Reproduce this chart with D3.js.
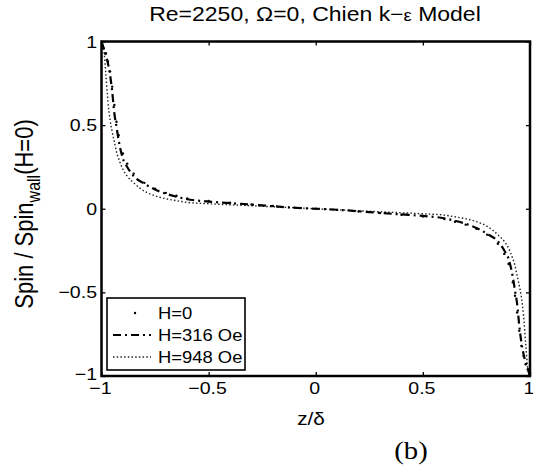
<!DOCTYPE html>
<html>
<head>
<meta charset="utf-8">
<script src="https://cdn.jsdelivr.net/npm/d3@7"></script>
<style>
body { margin: 0; background: #fff; }
svg text { font-family: "Liberation Sans", Arial, sans-serif; fill: #000; }
svg text.serif { font-family: "Liberation Serif", "Times New Roman", serif; }
</style>
</head>
<body>
<div id="chart"></div>
<script>
// z/delta positions shared by the three curves
const zGrid = [-1, -0.99, -0.98, -0.97, -0.96, -0.95, -0.94, -0.93, -0.92, -0.90, -0.88, -0.85, -0.80, -0.75, -0.70, -0.65, -0.60, -0.50, -0.40, -0.30, -0.20, -0.10,
  0, 0.10, 0.20, 0.30, 0.40, 0.50, 0.60, 0.65, 0.70, 0.75, 0.80, 0.85, 0.88, 0.90, 0.92, 0.93, 0.94, 0.95, 0.96, 0.97, 0.98, 0.99, 1]
const spinH0 = [1.00, 0.96, 0.93, 0.88, 0.82, 0.73, 0.62, 0.52, 0.44, 0.33, 0.27, 0.21, 0.155, 0.12, 0.095, 0.078, 0.062, 0.046, 0.036, 0.026, 0.016, 0.007,
  0, -0.007, -0.016, -0.026, -0.036, -0.046, -0.062, -0.078, -0.095, -0.12, -0.155, -0.21, -0.27, -0.33, -0.44, -0.52, -0.62, -0.73, -0.82, -0.88, -0.93, -0.96, -1.00]
const spinH316 = [1.00, 0.96, 0.92, 0.87, 0.80, 0.70, 0.57, 0.49, 0.41, 0.30, 0.25, 0.195, 0.15, 0.115, 0.09, 0.072, 0.057, 0.043, 0.034, 0.025, 0.015, 0.006,
  0, -0.006, -0.015, -0.025, -0.034, -0.043, -0.057, -0.072, -0.09, -0.115, -0.15, -0.195, -0.25, -0.30, -0.41, -0.49, -0.57, -0.70, -0.80, -0.87, -0.92, -0.96, -1.00]
const spinH948 = [1.00, 0.96, 0.81, 0.64, 0.53, 0.46, 0.40, 0.34, 0.30, 0.235, 0.195, 0.155, 0.105, 0.077, 0.060, 0.048, 0.038, 0.030, 0.024, 0.018, 0.012, 0.006,
  0, -0.006, -0.012, -0.018, -0.024, -0.030, -0.038, -0.048, -0.060, -0.077, -0.105, -0.155, -0.195, -0.235, -0.30, -0.34, -0.40, -0.46, -0.53, -0.64, -0.81, -0.96, -1.00]
const legendNames = ["H=0", "H=316 Oe", "H=948 Oe"]
const xTicks = [-1, -0.5, 0, 0.5, 1]
const yTicks = [-1, -0.5, 0, 0.5, 1]

const width = 533, height = 473
const sx = 1.15 // the picture is a little wider than tall
const padL = 101.5, padR = 530, padT = 41.5, padB = 376

var svg = d3.select("#chart").append("svg")
    .attr("width", width)
    .attr("height", height)

var x = d3.scaleLinear().domain([-1, 1]).range([padL, padR])
var y = d3.scaleLinear().domain([-1, 1]).range([padB, padT])

function fmt(v) { return (v < 0 ? "\u2212" : "") + Math.abs(v) }

function label(txt, px, py, size, anchor, rot) {
  return svg.append("text")
    .attr("transform", "translate(" + px + "," + py + ") scale(" + sx + ",1)" + (rot ? " rotate(-90)" : ""))
    .attr("text-anchor", anchor)
    .attr("font-size", size)
    .text(txt)
}

svg.append("defs").append("clipPath").attr("id", "clip")
  .append("rect").attr("x", padL).attr("y", padT - 2).attr("width", padR - padL).attr("height", padB - padT + 4)

// ticks pointing inward on all four sides
function ticks(axis, tx, ty) {
  let g = svg.append("g").attr("transform", "translate(" + tx + "," + ty + ")").call(axis)
  g.select(".domain").remove()
  g.selectAll("text").remove()
  g.selectAll("line").attr("stroke", "#000").attr("stroke-width", 1.3)
}
ticks(d3.axisBottom(x).tickValues(xTicks).tickSize(-4).tickSizeOuter(0), 0, padB)
ticks(d3.axisTop(x).tickValues(xTicks).tickSize(-4).tickSizeOuter(0), 0, padT)
ticks(d3.axisLeft(y).tickValues(yTicks).tickSize(-4).tickSizeOuter(0), padL, 0)
ticks(d3.axisRight(y).tickValues(yTicks).tickSize(-4).tickSizeOuter(0), padR, 0)

// curves
var data316 = zGrid.map((z, i) => [z, spinH316[i]])
var data948 = zGrid.map((z, i) => [z, spinH948[i]])
var data0 = zGrid.map((z, i) => [z, spinH0[i]])
var line = d3.line().x(d => x(d[0])).y(d => y(d[1])).curve(d3.curveMonotoneX)

var plot = svg.append("g").attr("clip-path", "url(#clip)")
plot.append("path").datum(data948).attr("d", line)
  .attr("fill", "none").attr("stroke", "#222").attr("stroke-width", 1.4).attr("stroke-dasharray", "1.5,2.2")
plot.append("path").datum(data316).attr("d", line)
  .attr("fill", "none").attr("stroke", "#000").attr("stroke-width", 2.2).attr("stroke-dasharray", "8,4,2,4")
plot.selectAll(".dot").data(data0).enter().append("circle")
  .attr("class", "dot")
  .attr("cx", d => x(d[0])).attr("cy", d => y(d[1])).attr("r", 1.2).attr("fill", "#000")

// frame
svg.append("rect").attr("x", padL).attr("y", padT).attr("width", padR - padL).attr("height", padB - padT)
  .attr("fill", "none").attr("stroke", "#000").attr("stroke-width", 2.5)

// tick labels
xTicks.forEach(v => label(fmt(v), x(v) - 1, 394, 17, "middle"))
yTicks.forEach(v => label(fmt(v), 97, y(v) + (v == -1 ? 4 : 6), 17, "end"))

// legend
var lg = svg.append("g")
lg.append("rect").attr("x", 107).attr("y", 298).attr("width", 138).attr("height", 72)
  .attr("fill", "#fff").attr("stroke", "#000").attr("stroke-width", 1.6)
var rows = [313, 335, 357]
lg.append("circle").attr("cx", 135).attr("cy", rows[0]).attr("r", 1.2).attr("fill", "#000")
lg.append("line").attr("x1", 113).attr("x2", 151).attr("y1", rows[1]).attr("y2", rows[1])
  .attr("stroke", "#000").attr("stroke-width", 2).attr("stroke-dasharray", "8,4,2,4")
lg.append("line").attr("x1", 113).attr("x2", 151).attr("y1", rows[2]).attr("y2", rows[2])
  .attr("stroke", "#222").attr("stroke-width", 1.4).attr("stroke-dasharray", "1.5,2.2")
legendNames.forEach((n, i) => label(n, 158, rows[i] + 6, 16, "start"))

// title and axis labels
var t = label("", 315, 21, 20, "middle")
t.append("tspan").text("Re=2250, \u03A9=0, Chien k\u2212")
t.append("tspan").attr("font-size", 16).text("\u03B5")
t.append("tspan").text(" Model")

label("z/\u03B4", 311, 425, 18, "middle")

var yl = label("", 33, 214, 22, "middle", true)
yl.append("tspan").text("Spin / Spin")
yl.append("tspan").attr("font-size", 16).attr("dy", 6).text("wall")
yl.append("tspan").attr("dy", -6).text("(H=0)")

label("(b)", 411, 459, 25, "middle").attr("class", "serif")
</script>
</body>
</html>
